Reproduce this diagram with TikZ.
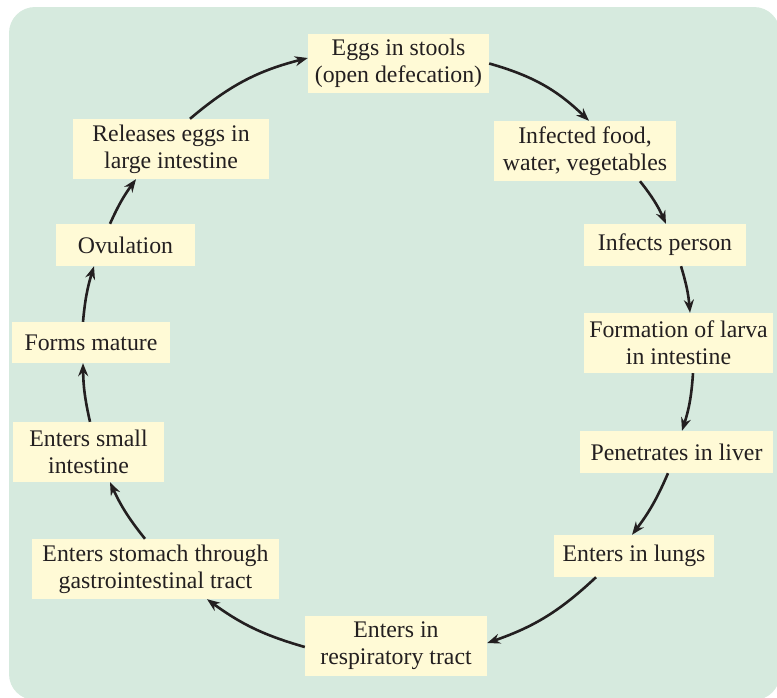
\documentclass[tikz,border=0pt]{standalone}
\usepackage{fontspec}
\setmainfont{Liberation Serif}
\newfontfamily\timesfont{Liberation Serif}
\usetikzlibrary{arrows.meta}
\definecolor{bggreen}{RGB}{214,234,222}
\definecolor{boxyellow}{RGB}{255,250,214}
\definecolor{ink}{RGB}{35,31,32}
\begin{document}
\begin{tikzpicture}[x=1pt,y=-1pt,
  stage/.style={fill=boxyellow, text=ink, inner sep=0pt, align=center,
    font=\timesfont\fontsize{23.8}{27}\selectfont},
  flow/.style={draw=ink, line width=2.6pt, -{Stealth[length=13pt,width=10pt]}}]
\useasboundingbox (0,0) rectangle (777,697);
\fill[bggreen, rounded corners=26pt] (9,7) rectangle (780,700);

\node[stage, minimum width=181pt, minimum height=59pt] (eggs) at (398.5,63.5) {Eggs in stools\\(open defecation)};
\node[stage, minimum width=182pt, minimum height=60pt] (inf) at (585,151) {Infected food,\\water, vegetables};
\node[stage, minimum width=162pt, minimum height=42pt] (person) at (665,245) {Infects person};
\node[stage, minimum width=189pt, minimum height=60pt] (larva) at (678.5,343) {Formation of larva\\in intestine};
\node[stage, minimum width=193pt, minimum height=42pt] (liver) at (676.5,452) {Penetrates in liver};
\node[stage, minimum width=160pt, minimum height=42pt] (lungs) at (634,556) {Enters in lungs};
\node[stage, minimum width=182pt, minimum height=60pt] (resp) at (396,646) {Enters in\\respiratory tract};
\node[stage, minimum width=247pt, minimum height=60pt] (stom) at (155.5,569) {Enters stomach through\\gastrointestinal tract};
\node[stage, minimum width=151pt, minimum height=60pt] (small) at (88.5,452) {Enters small\\intestine};
\node[stage, minimum width=158pt, minimum height=41pt] (mature) at (91,342.5) {Forms mature};
\node[stage, minimum width=139pt, minimum height=42pt] (ovul) at (125.5,245) {Ovulation};
\node[stage, minimum width=196pt, minimum height=60pt] (rel) at (171,149) {Releases eggs in\\large intestine};

\draw[flow] ([xshift=19pt]rel.north) to[bend left=13] ([yshift=5.5pt]eggs.west);
\draw[flow] (eggs.east) to[bend left=14] ([xshift=4pt]inf.north);
\draw[flow] ([xshift=55pt]inf.south) to[bend left=7] ([xshift=1pt]person.north);
\draw[flow] ([xshift=16pt]person.south) to[bend left=6] ([xshift=11.5pt]larva.north);
\draw[flow] ([xshift=14.5pt]larva.south) to[bend left=7] ([xshift=5.5pt]liver.north);
\draw[flow] ([xshift=-8.5pt]liver.south) to[bend left=7] ([xshift=-2pt]lungs.north);
\draw[flow] ([xshift=-38pt]lungs.south) to[bend left=12] ([yshift=3pt]resp.east);
\draw[flow] ([yshift=-1pt]resp.west) to[bend left=10] ([xshift=51.5pt]stom.south);
\draw[flow] ([xshift=-10.5pt]stom.north) to[bend left=7] ([xshift=21.5pt]small.south);
\draw[flow] ([xshift=1.5pt]small.north) to[bend left=6] ([xshift=-8pt]mature.south);
\draw[flow] ([xshift=-8pt]mature.north) to[bend left=6] ([xshift=-31.5pt]ovul.south);
\draw[flow] ([xshift=-15.5pt]ovul.north) to[bend left=6] ([xshift=-35pt]rel.south);
\end{tikzpicture}
\end{document}
